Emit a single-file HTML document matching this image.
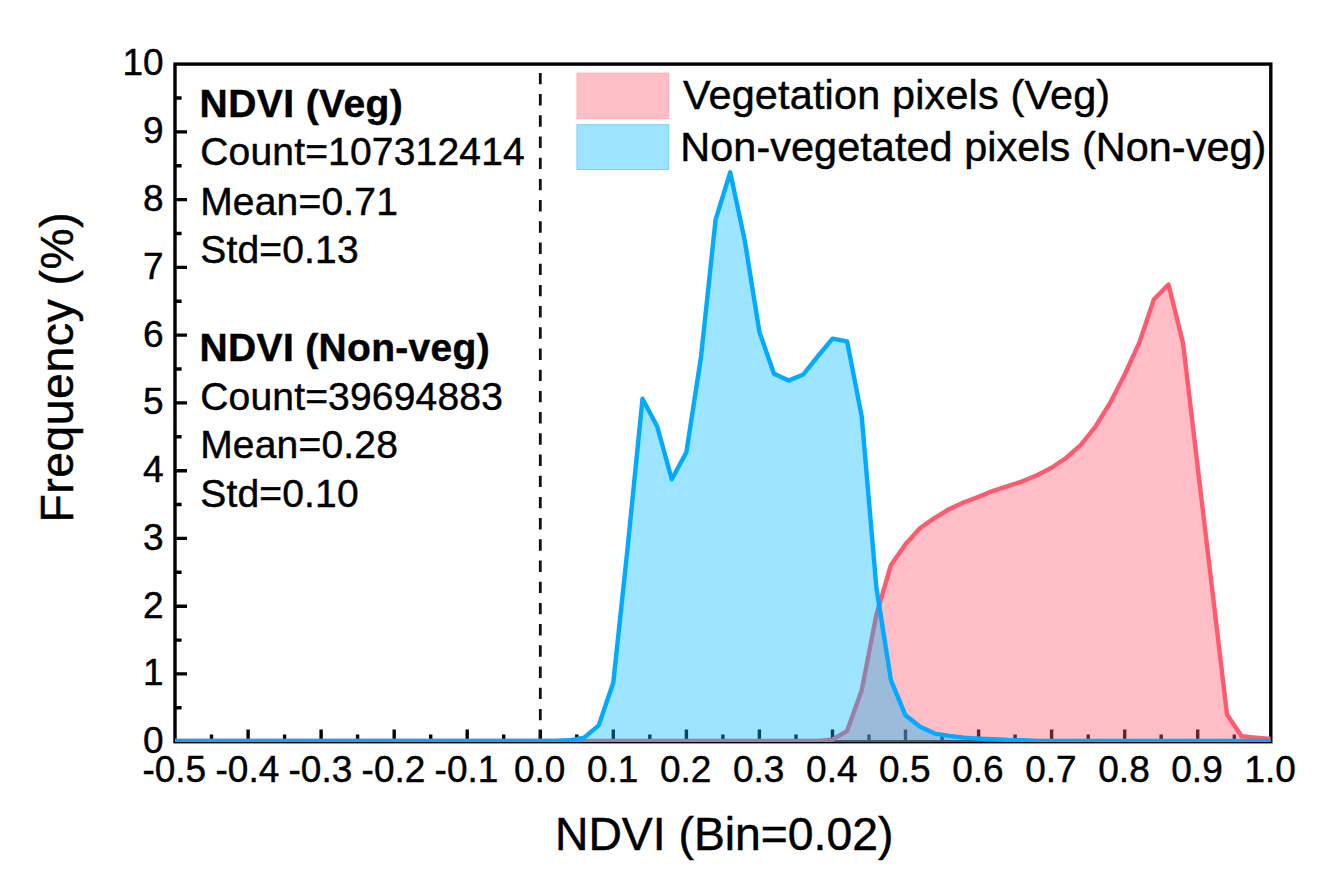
<!DOCTYPE html><html><head><meta charset="utf-8"><title>NDVI histogram</title>
<style>html,body{margin:0;padding:0;background:#fff;overflow:hidden}svg{display:block}text{font-family:"Liberation Sans",sans-serif;fill:#000;stroke:#000;stroke-width:0.45px}</style></head><body>
<svg width="1334" height="880" viewBox="0 0 1334 880">
<rect width="1334" height="880" fill="#fff"/>
<defs><clipPath id="cp"><rect x="175.0" y="64.1" width="1095.8" height="678.0"/></clipPath></defs>
<path d="M175.0 673.9 H187.0 M175.0 606.2 H187.0 M175.0 538.4 H187.0 M175.0 470.7 H187.0 M175.0 402.9 H187.0 M175.0 335.1 H187.0 M175.0 267.4 H187.0 M175.0 199.6 H187.0 M175.0 131.9 H187.0 M175.0 707.8 H181.6 M175.0 640.1 H181.6 M175.0 572.3 H181.6 M175.0 504.5 H181.6 M175.0 436.8 H181.6 M175.0 369.0 H181.6 M175.0 301.3 H181.6 M175.0 233.5 H181.6 M175.0 165.7 H181.6 M175.0 98.0 H181.6 M248.1 741.7 V729.6 M321.1 741.7 V729.6 M394.2 741.7 V729.6 M467.2 741.7 V729.6 M540.3 741.7 V729.6 M613.3 741.7 V729.6 M686.4 741.7 V729.6 M759.4 741.7 V729.6 M832.5 741.7 V729.6 M905.5 741.7 V729.6 M978.6 741.7 V729.6 M1051.6 741.7 V729.6 M1124.7 741.7 V729.6 M1197.7 741.7 V729.6 M211.5 741.7 V734.6 M284.6 741.7 V734.6 M357.6 741.7 V734.6 M430.7 741.7 V734.6 M503.7 741.7 V734.6 M576.8 741.7 V734.6 M649.8 741.7 V734.6 M722.9 741.7 V734.6 M796.0 741.7 V734.6 M869.0 741.7 V734.6 M942.1 741.7 V734.6 M1015.1 741.7 V734.6 M1088.2 741.7 V734.6 M1161.2 741.7 V734.6 M1234.3 741.7 V734.6" stroke="#000" stroke-width="3.4" fill="none"/>
<rect x="175.0" y="64.1" width="1095.8" height="677.6" fill="none" stroke="#000" stroke-width="3.4"/>
<path d="M540.3 72.9 V740" stroke="#111" stroke-width="2.8" stroke-dasharray="11.4 9.8" fill="none"/>
<path d="M175.0 741.0 L189.6 741.0 L204.2 741.0 L218.8 741.0 L233.4 741.0 L248.1 741.0 L262.7 741.0 L277.3 741.0 L291.9 741.0 L306.5 741.0 L321.1 741.0 L335.7 741.0 L350.3 741.0 L364.9 741.0 L379.5 741.0 L394.2 741.0 L408.8 741.0 L423.4 741.0 L438.0 741.0 L452.6 741.0 L467.2 741.0 L481.8 741.0 L496.4 741.0 L511.0 741.0 L525.7 741.0 L540.3 741.0 L554.9 741.0 L569.5 741.0 L584.1 741.0 L598.7 741.0 L613.3 741.0 L627.9 741.0 L642.5 741.0 L657.2 741.0 L671.8 741.0 L686.4 741.0 L701.0 741.0 L715.6 741.0 L730.2 741.0 L744.8 741.0 L759.4 741.0 L774.0 741.0 L788.6 741.0 L803.3 741.0 L817.9 741.0 L832.5 739.6 L847.1 730.9 L861.7 690.3 L876.3 615.2 L890.9 565.2 L905.5 544.2 L920.1 528.0 L934.8 517.8 L949.4 509.0 L964.0 502.3 L978.6 496.9 L993.2 490.8 L1007.8 486.1 L1022.4 481.3 L1037.0 475.2 L1051.6 467.8 L1066.3 457.7 L1080.9 444.8 L1095.5 426.5 L1110.1 402.9 L1124.7 374.5 L1139.3 342.7 L1153.9 299.4 L1168.5 284.5 L1183.1 343.4 L1197.7 467.1 L1212.4 590.9 L1227.0 714.6 L1241.6 736.3 L1256.2 737.6 L1270.8 739.0 L1270.8 744.0 L175.0 744.0 Z" fill="#ff5a6e" fill-opacity="0.40" clip-path="url(#cp)"/>
<path d="M175.0 741.0 L189.6 741.0 L204.2 741.0 L218.8 741.0 L233.4 741.0 L248.1 741.0 L262.7 741.0 L277.3 741.0 L291.9 741.0 L306.5 741.0 L321.1 741.0 L335.7 741.0 L350.3 741.0 L364.9 741.0 L379.5 741.0 L394.2 741.0 L408.8 741.0 L423.4 741.0 L438.0 741.0 L452.6 741.0 L467.2 741.0 L481.8 741.0 L496.4 741.0 L511.0 741.0 L525.7 741.0 L540.3 741.0 L554.9 741.0 L569.5 741.0 L584.1 741.0 L598.7 741.0 L613.3 741.0 L627.9 741.0 L642.5 741.0 L657.2 741.0 L671.8 741.0 L686.4 741.0 L701.0 741.0 L715.6 741.0 L730.2 741.0 L744.8 741.0 L759.4 741.0 L774.0 741.0 L788.6 741.0 L803.3 741.0 L817.9 741.0 L832.5 739.6 L847.1 730.9 L861.7 690.3 L876.3 615.2 L890.9 565.2 L905.5 544.2 L920.1 528.0 L934.8 517.8 L949.4 509.0 L964.0 502.3 L978.6 496.9 L993.2 490.8 L1007.8 486.1 L1022.4 481.3 L1037.0 475.2 L1051.6 467.8 L1066.3 457.7 L1080.9 444.8 L1095.5 426.5 L1110.1 402.9 L1124.7 374.5 L1139.3 342.7 L1153.9 299.4 L1168.5 284.5 L1183.1 343.4 L1197.7 467.1 L1212.4 590.9 L1227.0 714.6 L1241.6 736.3 L1256.2 737.6 L1270.8 739.0" fill="none" stroke="#ff5a6e" stroke-width="4.4" stroke-linejoin="round" stroke-linecap="butt" clip-path="url(#cp)"/>
<path d="M175.0 741.0 L189.6 741.0 L204.2 741.0 L218.8 741.0 L233.4 741.0 L248.1 741.0 L262.7 741.0 L277.3 741.0 L291.9 741.0 L306.5 741.0 L321.1 741.0 L335.7 741.0 L350.3 741.0 L364.9 741.0 L379.5 741.0 L394.2 741.0 L408.8 741.0 L423.4 741.0 L438.0 741.0 L452.6 741.0 L467.2 741.0 L481.8 741.0 L496.4 741.0 L511.0 741.0 L525.7 741.0 L540.3 741.0 L554.9 741.0 L569.5 740.3 L584.1 737.6 L598.7 725.4 L613.3 682.5 L627.9 544.9 L642.5 398.8 L657.2 426.5 L671.8 479.3 L686.4 452.2 L701.0 356.9 L715.6 219.6 L730.2 172.3 L744.8 240.6 L759.4 331.9 L774.0 373.8 L788.6 380.6 L803.3 374.5 L817.9 356.2 L832.5 338.6 L847.1 341.3 L861.7 416.4 L876.3 586.8 L890.9 680.1 L905.5 715.3 L920.1 726.8 L934.8 733.6 L949.4 735.9 L964.0 737.6 L978.6 738.6 L993.2 739.3 L1007.8 740.0 L1022.4 740.3 L1037.0 741.0 L1051.6 741.0 L1066.3 741.0 L1080.9 741.0 L1095.5 741.0 L1110.1 741.0 L1124.7 741.0 L1139.3 741.0 L1153.9 741.0 L1168.5 741.0 L1183.1 741.0 L1197.7 741.0 L1212.4 741.0 L1227.0 741.0 L1241.6 741.0 L1256.2 741.0 L1270.8 741.0 L1270.8 744.0 L175.0 744.0 Z" fill="#00b9ff" fill-opacity="0.39" clip-path="url(#cp)"/>
<path d="M175.0 741.0 L189.6 741.0 L204.2 741.0 L218.8 741.0 L233.4 741.0 L248.1 741.0 L262.7 741.0 L277.3 741.0 L291.9 741.0 L306.5 741.0 L321.1 741.0 L335.7 741.0 L350.3 741.0 L364.9 741.0 L379.5 741.0 L394.2 741.0 L408.8 741.0 L423.4 741.0 L438.0 741.0 L452.6 741.0 L467.2 741.0 L481.8 741.0 L496.4 741.0 L511.0 741.0 L525.7 741.0 L540.3 741.0 L554.9 741.0 L569.5 740.3 L584.1 737.6 L598.7 725.4 L613.3 682.5 L627.9 544.9 L642.5 398.8 L657.2 426.5 L671.8 479.3 L686.4 452.2 L701.0 356.9 L715.6 219.6 L730.2 172.3 L744.8 240.6 L759.4 331.9 L774.0 373.8 L788.6 380.6 L803.3 374.5 L817.9 356.2 L832.5 338.6 L847.1 341.3 L861.7 416.4 L876.3 586.8 L890.9 680.1 L905.5 715.3 L920.1 726.8 L934.8 733.6 L949.4 735.9 L964.0 737.6 L978.6 738.6 L993.2 739.3 L1007.8 740.0 L1022.4 740.3 L1037.0 741.0 L1051.6 741.0 L1066.3 741.0 L1080.9 741.0 L1095.5 741.0 L1110.1 741.0 L1124.7 741.0 L1139.3 741.0 L1153.9 741.0 L1168.5 741.0 L1183.1 741.0 L1197.7 741.0 L1212.4 741.0 L1227.0 741.0 L1241.6 741.0 L1256.2 741.0 L1270.8 741.0" fill="none" stroke="#00aaff" stroke-width="4.4" stroke-linejoin="round" stroke-linecap="butt" clip-path="url(#cp)"/>
<rect x="576.5" y="72.6" width="92.7" height="46.3" fill="#ff5a6e" fill-opacity="0.40"/>
<rect x="577" y="73.1" width="91.7" height="45.3" fill="none" stroke="#ff5a6e" stroke-opacity="0.12" stroke-width="1"/>
<rect x="576.5" y="124.2" width="92.7" height="45.8" fill="#00b9ff" fill-opacity="0.39"/>
<rect x="577" y="124.7" width="91.7" height="44.8" fill="none" stroke="#00aaff" stroke-opacity="0.25" stroke-width="1"/>
<text x="683.0" y="108.5" font-size="41.4" letter-spacing="0.17">Vegetation pixels (Veg)</text>
<text x="680.3" y="160.5" font-size="41.4" letter-spacing="0.06">Non-vegetated pixels (Non-veg)</text>
<text x="163.6" y="753.2" font-size="37" text-anchor="end">0</text>
<text x="163.6" y="685.4" font-size="37" text-anchor="end">1</text>
<text x="163.6" y="617.7" font-size="37" text-anchor="end">2</text>
<text x="163.6" y="549.9" font-size="37" text-anchor="end">3</text>
<text x="163.6" y="482.2" font-size="37" text-anchor="end">4</text>
<text x="163.6" y="414.4" font-size="37" text-anchor="end">5</text>
<text x="163.6" y="346.6" font-size="37" text-anchor="end">6</text>
<text x="163.6" y="278.9" font-size="37" text-anchor="end">7</text>
<text x="163.6" y="211.1" font-size="37" text-anchor="end">8</text>
<text x="163.6" y="143.4" font-size="37" text-anchor="end">9</text>
<text x="163.6" y="74.9" font-size="37" text-anchor="end">10</text>
<text x="174.3" y="782.2" font-size="37" text-anchor="middle">-0.5</text>
<text x="247.4" y="782.2" font-size="37" text-anchor="middle">-0.4</text>
<text x="320.4" y="782.2" font-size="37" text-anchor="middle">-0.3</text>
<text x="393.5" y="782.2" font-size="37" text-anchor="middle">-0.2</text>
<text x="466.5" y="782.2" font-size="37" text-anchor="middle">-0.1</text>
<text x="539.6" y="782.2" font-size="37" text-anchor="middle">0.0</text>
<text x="612.6" y="782.2" font-size="37" text-anchor="middle">0.1</text>
<text x="685.7" y="782.2" font-size="37" text-anchor="middle">0.2</text>
<text x="758.7" y="782.2" font-size="37" text-anchor="middle">0.3</text>
<text x="831.8" y="782.2" font-size="37" text-anchor="middle">0.4</text>
<text x="904.8" y="782.2" font-size="37" text-anchor="middle">0.5</text>
<text x="977.9" y="782.2" font-size="37" text-anchor="middle">0.6</text>
<text x="1050.9" y="782.2" font-size="37" text-anchor="middle">0.7</text>
<text x="1124.0" y="782.2" font-size="37" text-anchor="middle">0.8</text>
<text x="1197.0" y="782.2" font-size="37" text-anchor="middle">0.9</text>
<text x="1270.1" y="782.2" font-size="37" text-anchor="middle">1.0</text>
<text x="724.2" y="849.8" font-size="46.3" text-anchor="middle">NDVI (Bin=0.02)</text>
<text transform="translate(73 367.2) rotate(-90)" font-size="46.3" letter-spacing="0.55" text-anchor="middle">Frequency (%)</text>
<text x="199.6" y="117.0" font-size="39" letter-spacing="0.42" font-weight="bold">NDVI (Veg)</text>
<text x="200.2" y="165.4" font-size="39" letter-spacing="0.18">Count=107312414</text>
<text x="200.2" y="214.7" font-size="39" letter-spacing="0.18">Mean=0.71</text>
<text x="200.2" y="263.2" font-size="39" letter-spacing="0.18">Std=0.13</text>
<text x="199.6" y="361.3" font-size="39" letter-spacing="0.32" font-weight="bold">NDVI (Non-veg)</text>
<text x="200.2" y="409.7" font-size="39" letter-spacing="0.18">Count=39694883</text>
<text x="200.2" y="458.1" font-size="39" letter-spacing="0.18">Mean=0.28</text>
<text x="200.2" y="506.6" font-size="39" letter-spacing="0.18">Std=0.10</text>
</svg></body></html>
